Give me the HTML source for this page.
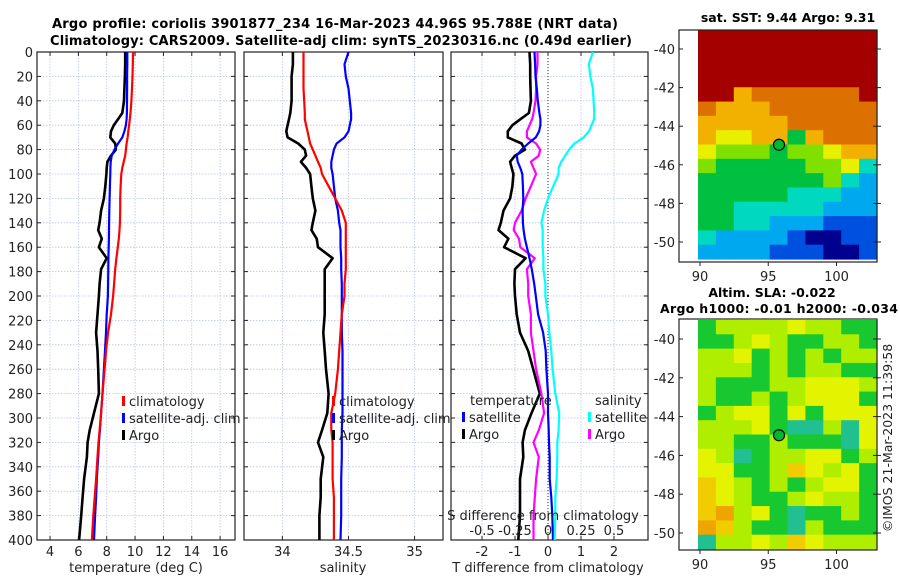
<!DOCTYPE html>
<html><head><meta charset="utf-8">
<style>
html,body{margin:0;padding:0;background:#fff;}
svg{display:block;font-family:"DejaVu Sans","Liberation Sans",sans-serif;}
</style></head>
<body>
<svg id="fig" width="900" height="580" viewBox="0 0 900 580" xmlns="http://www.w3.org/2000/svg">
<text x="335" y="28" font-size="13" font-weight="bold" text-anchor="middle" textLength="566">Argo profile: coriolis 3901877_234 16-Mar-2023 44.96S 95.788E (NRT data)</text>
<text x="341" y="45" font-size="13" font-weight="bold" text-anchor="middle" textLength="582">Climatology: CARS2009. Satellite-adj clim: synTS_20230316.nc (0.49d earlier)</text>
<text x="788" y="22" font-size="12.5" font-weight="bold" text-anchor="middle">sat. SST: 9.44 Argo: 9.31</text>
<text x="772" y="297" font-size="12.5" font-weight="bold" text-anchor="middle">Altim. SLA: -0.022</text>
<text x="779" y="313" font-size="12.5" font-weight="bold" text-anchor="middle" textLength="238">Argo h1000: -0.01 h2000: -0.034</text>
<text transform="translate(892,438) rotate(-90)" font-size="12.5" text-anchor="middle" fill="#222">©IMOS 21-Mar-2023 11:39:58</text>
<g id="plots"></g>
</svg>
<script>
// ---- profile data (depth in m) ----
const depth = [0,10,20,30,40,50,55,60,65,70,75,80,85,90,95,100,110,120,130,140,146,153,160,169,178,190,200,215,230,245,260,280,296,310,320,332,350,365,380,400];
const tempArgo = [9.3,9.3,9.28,9.25,9.22,9.1,8.8,8.5,8.3,8.25,8.6,8.65,8.3,8.05,8.0,7.98,7.9,7.8,7.6,7.5,7.4,7.65,7.45,8.0,7.6,7.5,7.45,7.35,7.25,7.35,7.4,7.45,7.1,6.8,6.65,6.6,6.4,6.3,6.2,6.05];
const tempClim = [9.86,9.84,9.82,9.78,9.74,9.68,9.63,9.58,9.52,9.47,9.4,9.35,9.3,9.2,9.1,9.03,8.98,8.95,8.95,8.93,8.9,8.85,8.78,8.68,8.6,8.52,8.45,8.3,8.1,7.95,7.85,7.7,7.6,7.5,7.42,7.35,7.25,7.15,7.05,6.95];
const tempSat = [9.45,9.45,9.44,9.44,9.43,9.42,9.4,9.35,9.25,9.1,8.8,8.55,8.35,8.28,8.26,8.25,8.22,8.2,8.18,8.17,8.16,8.15,8.14,8.12,8.11,8.1,8.08,8.0,7.95,7.88,7.8,7.7,7.6,7.52,7.45,7.4,7.3,7.25,7.18,7.1];
const salArgo = [34.08,34.08,34.07,34.07,34.07,34.06,34.05,34.04,34.03,34.04,34.12,34.17,34.18,34.14,34.18,34.21,34.22,34.23,34.25,34.23,34.22,34.26,34.27,34.38,34.32,34.32,34.32,34.32,34.31,34.32,34.33,34.35,34.34,34.3,34.27,34.31,34.29,34.29,34.28,34.28];
const salClim = [34.16,34.16,34.16,34.16,34.165,34.17,34.17,34.18,34.19,34.2,34.21,34.23,34.25,34.27,34.29,34.3,34.35,34.4,34.45,34.48,34.48,34.48,34.48,34.48,34.48,34.47,34.47,34.45,34.44,34.43,34.42,34.4,34.37,34.37,34.38,34.38,34.38,34.39,34.39,34.39];
const salSat = [34.5,34.47,34.48,34.5,34.51,34.52,34.52,34.51,34.5,34.47,34.41,34.39,34.38,34.37,34.37,34.38,34.39,34.4,34.42,34.43,34.44,34.44,34.44,34.445,34.445,34.45,34.45,34.45,34.45,34.455,34.455,34.455,34.455,34.45,34.45,34.45,34.445,34.445,34.445,34.44];
// tick labels
const depthTicks = [0,20,40,60,80,100,120,140,160,180,200,220,240,260,280,300,320,340,360,380,400];
const tempTicks = [4,6,8,10,12,14,16];
const salTicks = [34,34.5,35];
const salTickLabels = ["34","34.5","35"];
const diffTicks = [-2,-1,0,1,2];
const sDiffTicks = [-0.5,-0.25,0,0.25,0.5];
const sDiffTickLabels = ["-0.5","-0.25","0","0.25","0.5"];
// maps: colour codes per cell (rows north->south)
const sstGrid = ["9999999999","9999999999","9999999999","9999999999","9978888889","8777888888","7777788888","7667747888","6555455677","5444445563","4444444532","4444433322","4433333222","4433222111","3222210011","2222111001"];
const slaGrid = ["4555565544","4456544554","5564545455","5554545544","5444556665","5445456664","4566464666","5556433536","5544544436","6534556645","6644576564","7654545664","7654456554","7856434454","8754435444","3556576555"];
const latTicks = [-40,-42,-44,-46,-48,-50];
const lonTicks = [90,95,100];
const argoLon = 95.788, argoLat = -44.96;

const NS="http://www.w3.org/2000/svg";
const root=document.getElementById('plots');
function el(tag,attrs,parent){const e=document.createElementNS(NS,tag);for(const k in attrs)e.setAttribute(k,attrs[k]);(parent||root).appendChild(e);return e;}
function txt(x,y,s,size,anchor,parent){const t=el('text',{x:x,y:y,'font-size':size,'text-anchor':anchor||'middle',fill:'#222'},parent);t.textContent=s;return t;}

const yTop=52, yBot=540;
const yD=d=>yTop+(d-0)*(yBot-yTop)/400;
const panels=[
 {x0:37,x1:235,lo:3.08,hi:17.05,name:'temperature-panel'},
 {x0:244,x1:443,lo:33.71,hi:35.215,name:'salinity-panel'},
 {x0:451,x1:648,lo:-2.94,hi:3.03,name:'difference-panel'}
];
function xS(p,v){return p.x0+(v-p.lo)*(p.x1-p.x0)/(p.hi-p.lo);}

function frame(p,gridVals,first){
  const g=el('g',{});
  
  
  depthTicks.forEach(d=>{
    const gl=el('line',{x1:p.x0,x2:p.x1,y1:yD(d),y2:yD(d),stroke:'#b9c3e6','stroke-width':0.8,'stroke-dasharray':'1.5,1.5'},g);
    
    
    el('line',{x1:p.x0,x2:p.x0+4,y1:yD(d),y2:yD(d),stroke:'#222'},g);
    el('line',{x1:p.x1-4,x2:p.x1,y1:yD(d),y2:yD(d),stroke:'#222'},g);
    if(first){const t=txt(33,yD(d)+5,String(d),13,'end',g);
      
      }
  });
  gridVals.forEach(v=>{
    const x=xS(p,v);
    const gl=el('line',{x1:x,x2:x,y1:yTop,y2:yBot,stroke:'#b9c3e6','stroke-width':0.8,'stroke-dasharray':'1.5,1.5'},g);
    
    
    el('line',{x1:x,x2:x,y1:yBot-4,y2:yBot,stroke:'#222'},g);
    el('line',{x1:x,x2:x,y1:yTop,y2:yTop+4,stroke:'#222'},g);
  });
  el('rect',{x:p.x0,y:yTop,width:p.x1-p.x0,height:yBot-yTop,fill:'none',stroke:'#222','stroke-width':1.2},g);
  return g;
}
function line(p,vals,color,name,w){
  const pts=depth.map((d,i)=>xS(p,vals[i]).toFixed(1)+','+yD(d).toFixed(1)).join(' ');
  const l=el('polyline',{points:pts,fill:'none',stroke:color,'stroke-width':w||2.2,'stroke-linejoin':'round'});
  
  
  return l;
}
function legendItem(x,y,color,label,name){
  const g=el('g',{});
  
  
  el('rect',{x:x,y:y-10,width:3,height:10,fill:color},g);
  txt(x+7,y,label,13,'start',g);
}

// Panel 1
const P1=panels[0];
frame(P1,tempTicks,true);
tempTicks.forEach(v=>{const t=txt(xS(P1,v),556,String(v),13);});
line(P1,tempArgo,'#000','temp-argo-line',2.6);
line(P1,tempSat,'#0000ff','temp-satellite-line');
line(P1,tempClim,'#ff0000','temp-climatology-line');
legendItem(122,406,'#ff0000','climatology','legend-climatology');
legendItem(122,423,'#0000ff','satellite-adj. clim','legend-satellite');
legendItem(122,440,'#000','Argo','legend-argo');
const xl1=txt(136,572,'temperature (deg C)',13);

// Panel 2
const P2=panels[1];
frame(P2,salTicks,false);
salTicks.forEach((v,i)=>{const t=txt(xS(P2,v),556,salTickLabels[i],13);});
line(P2,salArgo,'#000','sal-argo-line',2.6);
line(P2,salSat,'#0000ff','sal-satellite-line');
line(P2,salClim,'#ff0000','sal-climatology-line');
legendItem(332,406,'#ff0000','climatology','legend-climatology-2');
legendItem(332,423,'#0000ff','satellite-adj. clim','legend-satellite-2');
legendItem(332,440,'#000','Argo','legend-argo-2');
const xl2=txt(343,572,'salinity',13);

// Panel 3
const P3=panels[2];
frame(P3,diffTicks,false);
const zl=el('line',{x1:xS(P3,0),x2:xS(P3,0),y1:yTop,y2:yBot,stroke:'#333','stroke-width':1,'stroke-dasharray':'1,2'});

diffTicks.forEach(v=>{const t=txt(xS(P3,v),556,String(v),13);});
const tdA=tempArgo.map((v,i)=>v-tempClim[i]);
const tdS=tempSat.map((v,i)=>v-tempClim[i]);
const sdA=salArgo.map((v,i)=>(v-salClim[i])*4);
const sdS=salSat.map((v,i)=>(v-salClim[i])*4);
line(P3,tdA,'#000','tdiff-argo-line',2.6);
line(P3,sdA,'#ff00ff','sdiff-argo-line');
line(P3,tdS,'#0000ff','tdiff-satellite-line');
line(P3,sdS,'#00ffff','sdiff-satellite-line');
const lt=txt(470,405,'temperature',13,'start');
legendItem(462,422,'#0000ff','satellite','legend-tdiff-satellite');
legendItem(462,439,'#000','Argo','legend-tdiff-argo');
const ls=txt(595,405,'salinity',13,'start');
legendItem(588,422,'#00ffff','satellite','legend-sdiff-satellite');
legendItem(588,439,'#ff00ff','Argo','legend-sdiff-argo');
const st=txt(543,520,'S difference from climatology',13);
sDiffTicks.forEach((v,i)=>{const t=txt(xS(P3,v*4),535,sDiffTickLabels[i],13);});
const xl3=txt(548,572,'T difference from climatology',13);

// ---- maps ----
const sstCol={'0':'#00008f','1':'#0050e0','2':'#00a8f0','3':'#00d8c0','4':'#00c040','5':'#80e000','6':'#e8f000','7':'#f2b000','8':'#dc7000','9':'#a50000'};
const slaCol={'3':'#20c090','4':'#18c830','5':'#b0ee00','6':'#e4f400','7':'#f0cc00','8':'#f0a400'};
function map(grid,cols,fy0,fy1,iy0,iy1,lat40,lat50,name){
  const g=el('g',{});
  
  
  const ix0=698, ix1=877;
  const nr=grid.length, nc=grid[0].length;
  const cw=(ix1-ix0)/nc, ch=(iy1-iy0)/nr;
  grid.forEach((row,r)=>{for(let c=0;c<nc;c++){
    el('rect',{x:(ix0+c*cw).toFixed(2),y:(iy0+r*ch).toFixed(2),width:(cw+0.6).toFixed(2),height:(ch+0.6).toFixed(2),fill:cols[row[c]]},g);
  }});
  const lonX=v=>700+(v-90)*13.65;
  const latY=v=>lat40+(-40-v)*(lat50-lat40)/10;
  el('rect',{x:679,y:fy0,width:198,height:fy1-fy0,fill:'none',stroke:'#222','stroke-width':1.2},g);
  latTicks.forEach(v=>{
    el('line',{x1:679,x2:683,y1:latY(v),y2:latY(v),stroke:'#222'},g);
    el('line',{x1:873,x2:881,y1:latY(v),y2:latY(v),stroke:'#222'},g);
    const t=txt(675,latY(v)+5,String(v),13,'end',g);
    
    
  });
  lonTicks.forEach(v=>{
    el('line',{x1:lonX(v),x2:lonX(v),y1:fy1,y2:fy1+4,stroke:'#222'},g);
    const t=txt(lonX(v),fy1+19,String(v),13,'middle',g);
    
    
  });
  const m=el('circle',{cx:lonX(argoLon),cy:latY(argoLat),r:5.5,fill:'#00b830',stroke:'#000','stroke-width':1.2},g);
  
  
}
map(sstGrid,sstCol,30,262,30,259,49,242,'sst-map');
map(slaGrid,slaCol,319,550,320,549,339,533,'sla-map');
</script>
</body></html>
